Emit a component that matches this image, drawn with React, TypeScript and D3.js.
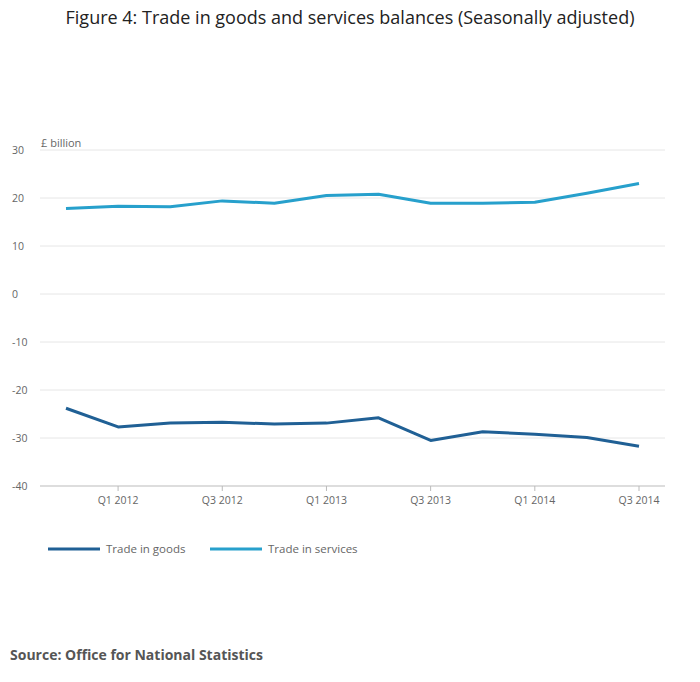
import * as d3 from "d3";
import React, { useRef, useEffect } from "react";

const quarters = ["Q4 2011", "Q1 2012", "Q2 2012", "Q3 2012", "Q4 2012", "Q1 2013", "Q2 2013", "Q3 2013", "Q4 2013", "Q1 2014", "Q2 2014", "Q3 2014"];
const goods = [-23.8, -27.7, -26.9, -26.7, -27.1, -26.9, -25.8, -30.5, -28.7, -29.2, -29.9, -31.7];
const services = [17.8, 18.3, 18.2, 19.4, 18.9, 20.5, 20.8, 18.9, 18.9, 19.1, 21.0, 23.0];
const yTicks = [30, 20, 10, 0, -10, -20, -30, -40];
const xLabels = ["Q1 2012", "Q3 2012", "Q1 2013", "Q3 2013", "Q1 2014", "Q3 2014"];

const goodsColor = "#206095";
const servicesColor = "#27a0cc";

function App() {
    const ref = useRef(null);
    const width = 700;
    const height = 682;

    useEffect(() => {
        const svg = d3.select(ref.current);
        svg.selectAll("*").remove();
        const font = "'Open Sans', sans-serif";

        const x = d3.scalePoint().domain(quarters).range([66, 639]);
        const y = d3.scaleLinear().domain([-40, 30]).range([486, 150]);

        svg.append("text").attr("x", 350).attr("y", 24).attr("text-anchor", "middle")
            .attr("font-family", font).attr("font-size", 18).attr("fill", "#222")
            .text("Figure 4: Trade in goods and services balances (Seasonally adjusted)");

        const grid = svg.append("g");
        yTicks.forEach((t) => {
            grid.append("line").attr("x1", 40).attr("x2", 665).attr("y1", y(t)).attr("y2", y(t))
                .attr("stroke", t === -40 ? "#bbb" : "#e6e6e6").attr("stroke-width", 1);
            grid.append("text").attr("x", 12).attr("y", y(t) + 4).attr("font-family", font)
                .attr("font-size", 10.5).attr("fill", "#666").text(t);
        });
        svg.append("text").attr("x", 41).attr("y", 147).attr("font-family", font)
            .attr("font-size", 11).attr("fill", "#666").text("£ billion");

        xLabels.forEach((q) => {
            svg.append("line").attr("x1", x(q)).attr("x2", x(q)).attr("y1", 486).attr("y2", 491).attr("stroke", "#bbb");
            svg.append("text").attr("x", x(q)).attr("y", 504).attr("text-anchor", "middle")
                .attr("font-family", font).attr("font-size", 10.5).attr("fill", "#666").text(q);
        });

        const line = d3.line<number>().x((d, i) => x(quarters[i])!).y((d) => y(d));
        [[goods, goodsColor], [services, servicesColor]].forEach(([data, c]: any) => {
            svg.append("path").attr("d", line(data)).attr("fill", "none")
                .attr("stroke", c).attr("stroke-width", 3).attr("stroke-linejoin", "round");
        });

        const legend = [["Trade in goods", goodsColor, 48], ["Trade in services", servicesColor, 210]];
        legend.forEach(([label, c, lx]: any) => {
            svg.append("line").attr("x1", lx).attr("x2", lx + 52).attr("y1", 549).attr("y2", 549)
                .attr("stroke", c).attr("stroke-width", 3);
            svg.append("text").attr("x", lx + 58).attr("y", 553).attr("font-family", font)
                .attr("font-size", 11.5).attr("fill", "#666").text(label);
        });

        svg.append("text").attr("x", 10).attr("y", 660).attr("font-family", font)
            .attr("font-size", 14).attr("font-weight", "bold").attr("fill", "#555")
            .text("Source: Office for National Statistics");
    }, []);

    return (
        <svg ref={ref} width={width} height={height}
            style={{ position: "absolute", left: 0, top: 0, background: "#fff" }}></svg>
    );
}

export default App;
